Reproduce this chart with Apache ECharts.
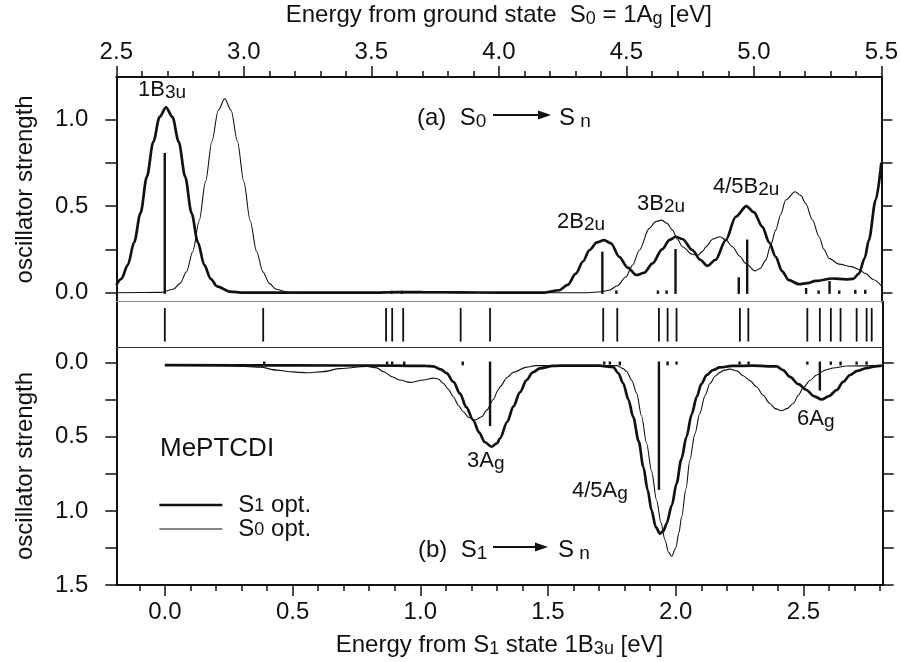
<!DOCTYPE html>
<html>
<head>
<meta charset="utf-8">
<script src="https://cdn.jsdelivr.net/npm/echarts@6/dist/echarts.min.js"></script>
<style>
  html, body { margin: 0; padding: 0; background: #fff; }
  #chart { width: 901px; height: 662px; }
</style>
</head>
<body>
<div id="chart"></div>
<script>
// ---- Panel (a): S0 -> Sn, energy from the ground state [eV] vs oscillator strength
const absA_S1opt = [
  [2.50,0.045],[2.52,0.08],[2.545,0.16],[2.57,0.29],[2.595,0.46],[2.62,0.67],[2.645,0.87],
  [2.67,1.015],[2.695,1.07],[2.72,1.015],[2.745,0.87],[2.77,0.67],[2.795,0.46],[2.82,0.29],
  [2.845,0.16],[2.87,0.08],[2.895,0.037],[2.945,0.006],[3.0,0.0],[3.5,0.0],[3.6,0.004],
  [3.7,0.003],[3.85,0.002],[4.0,0.0],[4.17,0.0],[4.237,0.014],[4.27,0.045],[4.302,0.11],
  [4.33,0.18],[4.355,0.245],[4.385,0.29],[4.413,0.303],[4.44,0.285],[4.472,0.207],[4.505,0.145],
  [4.54,0.102],[4.57,0.115],[4.603,0.169],[4.64,0.25],[4.67,0.305],[4.694,0.323],[4.72,0.31],
  [4.759,0.246],[4.79,0.19],[4.818,0.155],[4.85,0.19],[4.89,0.303],[4.929,0.438],[4.971,0.50],
  [5.0,0.465],[5.034,0.38],[5.06,0.29],[5.086,0.207],[5.11,0.125],[5.138,0.072],[5.177,0.049],
  [5.21,0.055],[5.243,0.068],[5.308,0.082],[5.36,0.077],[5.39,0.08],[5.412,0.11],[5.435,0.2],
  [5.451,0.303],[5.478,0.535],[5.5,0.75]
];
const absA_S0opt = [
  [2.5,0.0],[2.675,0.002],[2.725,0.021],[2.75,0.054],[2.775,0.12],[2.80,0.238],[2.825,0.415],
  [2.85,0.641],[2.875,0.874],[2.90,1.053],[2.925,1.12],[2.95,1.053],[2.975,0.874],[3.0,0.641],
  [3.025,0.415],[3.05,0.238],[3.075,0.12],[3.10,0.054],[3.125,0.021],[3.175,0.002],[3.25,0.0],
  [4.35,0.0],[4.40,0.005],[4.433,0.014],[4.465,0.04],[4.498,0.091],[4.525,0.16],[4.551,0.245],
  [4.59,0.371],[4.615,0.41],[4.639,0.419],[4.66,0.40],[4.681,0.361],[4.70,0.31],[4.72,0.265],
  [4.759,0.222],[4.779,0.215],[4.80,0.24],[4.812,0.265],[4.84,0.31],[4.867,0.323],[4.89,0.305],
  [4.916,0.265],[4.945,0.21],[4.968,0.169],[5.005,0.126],[5.025,0.14],[5.047,0.188],[5.065,0.27],
  [5.086,0.361],[5.105,0.45],[5.125,0.535],[5.162,0.583],[5.185,0.56],[5.203,0.516],[5.23,0.42],
  [5.256,0.323],[5.275,0.25],[5.295,0.198],[5.334,0.165],[5.386,0.149],[5.41,0.135],[5.438,0.111],
  [5.47,0.075],[5.5,0.04]
];
const sticksA = [
  [2.69,0.80],[3.58,0.004],[3.62,0.004],[4.406,0.23],[4.461,0.006],[4.624,0.006],[4.658,0.006],
  [4.693,0.245],[4.941,0.082],[4.974,0.30],[5.205,0.02],[5.254,0.006],[5.297,0.06],[5.335,0.006],
  [5.398,0.01],[5.437,0.01]
];

// ---- Excited-state positions (energy from the ground state) for the middle strip
const stateEnergies = [
  2.69, 3.075, 3.556, 3.58, 3.623, 3.848, 3.963, 4.406, 4.461, 4.624, 4.658, 4.693,
  4.941, 4.974, 5.205, 5.254, 5.297, 5.335, 5.398, 5.437, 5.457
];

// ---- Panel (b): S1 -> Sn, energy from the S1 state [eV] vs oscillator strength
const absB_S1opt = [
  [0.0,0.016],[0.5,0.018],[0.9,0.02],[1.02,0.022],[1.051,0.025],[1.08,0.045],[1.103,0.07],
  [1.13,0.13],[1.155,0.207],[1.18,0.3],[1.207,0.387],[1.23,0.47],[1.252,0.535],[1.279,0.567],
  [1.30,0.545],[1.312,0.511],[1.34,0.4],[1.364,0.297],[1.39,0.2],[1.416,0.117],[1.44,0.065],
  [1.468,0.038],[1.52,0.022],[1.547,0.02],[1.70,0.02],[1.755,0.03],[1.775,0.07],[1.794,0.139],
  [1.815,0.25],[1.833,0.365],[1.855,0.53],[1.873,0.703],[1.89,0.86],[1.905,0.995],[1.922,1.11],
  [1.938,1.153],[1.952,1.135],[1.964,1.085],[1.985,0.96],[2.003,0.815],[2.022,0.65],[2.042,0.5],
  [2.062,0.35],[2.082,0.23],[2.10,0.145],[2.121,0.083],[2.145,0.05],[2.173,0.032],[2.22,0.022],
  [2.30,0.02],[2.395,0.025],[2.42,0.05],[2.447,0.095],[2.48,0.145],[2.512,0.184],[2.54,0.225],
  [2.571,0.248],[2.60,0.225],[2.63,0.184],[2.655,0.13],[2.682,0.083],[2.71,0.055],[2.747,0.036],
  [2.78,0.025],[2.806,0.02]
];
const absB_S0opt = [
  [0.0,0.016],[0.25,0.02],[0.372,0.03],[0.438,0.05],[0.5,0.062],[0.555,0.068],[0.62,0.06],
  [0.686,0.04],[0.79,0.025],[0.83,0.035],[0.855,0.06],[0.89,0.095],[0.92,0.117],[0.96,0.133],
  [1.012,0.117],[1.051,0.104],[1.07,0.11],[1.09,0.139],[1.11,0.18],[1.129,0.23],[1.15,0.29],
  [1.168,0.331],[1.19,0.37],[1.214,0.387],[1.24,0.365],[1.26,0.32],[1.285,0.25],[1.305,0.184],
  [1.312,0.162],[1.34,0.1],[1.364,0.065],[1.416,0.03],[1.45,0.02],[1.77,0.02],[1.794,0.04],
  [1.808,0.06],[1.828,0.12],[1.847,0.207],[1.866,0.36],[1.886,0.545],[1.905,0.73],[1.925,0.928],
  [1.942,1.08],[1.958,1.198],[1.972,1.28],[1.984,1.306],[2.0,1.25],[2.012,1.15],[2.023,1.04],
  [2.04,0.85],[2.055,0.657],[2.075,0.48],[2.094,0.342],[2.115,0.22],[2.134,0.139],[2.155,0.09],
  [2.173,0.065],[2.19,0.05],[2.212,0.043],[2.24,0.055],[2.264,0.088],[2.29,0.12],[2.316,0.162],
  [2.342,0.22],[2.368,0.275],[2.39,0.31],[2.414,0.324],[2.435,0.31],[2.46,0.275],[2.48,0.22],
  [2.499,0.169],[2.525,0.12],[2.551,0.083],[2.585,0.05],[2.616,0.036],[2.67,0.022],[2.806,0.02]
];
const sticksB = [
  [0.389,0.006],[0.87,0.004],[0.89,0.004],[0.937,0.01],[1.166,0.01],[1.273,0.42],[1.72,0.004],
  [1.742,0.004],[1.781,0.01],[1.934,0.85],[1.968,0.01],[2.003,0.005],[2.25,0.004],[2.285,0.004],
  [2.515,0.005],[2.564,0.18],[2.607,0.006],[2.645,0.01],[2.708,0.005],[2.747,0.005]
];

// ---- Axis ticks and labels
const bottomMajorTicks = [0.0, 0.5, 1.0, 1.5, 2.0, 2.5];
const bottomMinorTicks = [-0.1, 0.1, 0.2, 0.3, 0.4, 0.6, 0.7, 0.8, 0.9, 1.1, 1.2, 1.3, 1.4,
  1.6, 1.7, 1.8, 1.9, 2.1, 2.2, 2.3, 2.4, 2.6, 2.7, 2.8];
const upperTicks = [0.0, 0.25, 0.5, 0.75, 1.0];
const upperLabels = [0.0, 0.5, 1.0];
const lowerTicks = [0.0, 0.25, 0.5, 0.75, 1.0, 1.25, 1.5];
const lowerLabels = [0.0, 0.5, 1.0, 1.5];

const INK = '#111';
const FONT = '"Liberation Sans", Arial, Helvetica, sans-serif';
const FS = 24;
const THICK = 2.7;
const THIN = 1.1;

const subStyle = (size, lh) => ({ fontFamily: FONT, fontSize: size, lineHeight: lh, verticalAlign: 'bottom', color: INK });
const textBase = { fontFamily: FONT, fontSize: FS, color: INK, lineHeight: 26, rich: { sub: subStyle(18, 19) } };

const chart = echarts.init(document.getElementById('chart'), null, { renderer: 'canvas' });

const frameLine = { show: true, onZero: false, lineStyle: { color: INK, width: 2 } };
const tickStyle = { color: INK, width: 1.5 };
const fmt1 = v => v.toFixed(1);

function stickRenderer(width) {
  return function (params, api) {
    const x = api.value(0), f = api.value(1);
    const p0 = api.coord([x, 0]);
    const p1 = api.coord([x, f]);
    return {
      type: 'line',
      shape: { x1: p0[0], y1: p0[1], x2: p1[0], y2: p1[1] },
      style: { stroke: INK, lineWidth: width, lineCap: 'square' }
    };
  };
}
function stripRenderer(params, api) {
  const x = api.value(0);
  const p0 = api.coord([x, 0.12]);
  const p1 = api.coord([x, 0.86]);
  return {
    type: 'line',
    shape: { x1: p0[0], y1: p0[1], x2: p1[0], y2: p1[1] },
    style: { stroke: INK, lineWidth: 1.8 }
  };
}

function yAxisPair(grid, min, max, inverse, ticks, labels, withName) {
  const left = {
    gridIndex: grid, type: 'value', position: 'left', min, max, inverse,
    axisLine: frameLine,
    axisTick: { show: !!ticks, inside: false, length: 11, lineStyle: tickStyle, customValues: ticks || undefined },
    axisLabel: labels ? { show: true, customValues: labels, margin: 28, fontSize: FS, fontFamily: FONT, color: INK, formatter: fmt1 } : { show: false },
    splitLine: { show: false }
  };
  if (withName) {
    left.name = 'oscillator strength';
    left.nameLocation = 'middle';
    left.nameGap = 79;
    left.nameTextStyle = { fontSize: FS, fontFamily: FONT, color: INK };
  }
  const right = {
    gridIndex: grid, type: 'value', position: 'right', min, max, inverse,
    axisLine: frameLine,
    axisTick: { show: !!ticks, inside: false, length: 11, lineStyle: tickStyle, customValues: ticks || undefined },
    axisLabel: { show: false },
    splitLine: { show: false }
  };
  return [left, right];
}

function richLabel(text, x, y, size, subSize) {
  const lh = size + 2;
  return {
    type: 'text', x, y, silent: true,
    style: {
      text, fill: INK, fontFamily: FONT, fontSize: size, lineHeight: lh,
      align: 'left', verticalAlign: 'middle',
      rich: { sub: subStyle(subSize, subSize - 1) }
    }
  };
}
function arrow(x1, x2, y) {
  return [
    { type: 'line', silent: true, shape: { x1, y1: y, x2: x2 - 10, y2: y }, style: { stroke: INK, lineWidth: 1.8 } },
    { type: 'polygon', silent: true, shape: { points: [[x2 - 13, y - 4.5], [x2, y], [x2 - 13, y + 4.5]] }, style: { fill: INK } }
  ];
}

const option = {
  animation: false,
  backgroundColor: '#fff',
  textStyle: { fontFamily: FONT },
  grid: [
    { left: 116.3, top: 77, width: 766.4, height: 224.7 },
    { left: 116.3, top: 301.7, width: 766.4, height: 45.3 },
    { left: 116.3, top: 347, width: 766.4, height: 238 }
  ],
  xAxis: [
    {
      gridIndex: 0, type: 'value', position: 'top', min: 2.5, max: 5.5, interval: 0.5,
      axisLine: frameLine,
      axisTick: { show: true, inside: false, length: 11, lineStyle: tickStyle },
      minorTick: { show: true, splitNumber: 5, length: 6, lineStyle: tickStyle },
      axisLabel: { margin: 13, fontSize: FS, fontFamily: FONT, color: INK, formatter: fmt1 },
      splitLine: { show: false }, minorSplitLine: { show: false },
      name: 'Energy from ground state  S{sub|0} = 1A{sub|g} [eV]',
      nameLocation: 'middle', nameGap: 49, nameTextStyle: textBase
    },
    {
      gridIndex: 1, type: 'value', position: 'top', min: 2.5, max: 5.5,
      axisLine: { show: true, onZero: false, lineStyle: { color: '#8c8c8c', width: 1.2 } },
      axisTick: { show: false }, axisLabel: { show: false }, splitLine: { show: false }
    },
    {
      gridIndex: 1, type: 'value', position: 'bottom', min: 2.5, max: 5.5,
      axisLine: { show: true, onZero: false, lineStyle: { color: '#333', width: 1.2 } },
      axisTick: { show: false }, axisLabel: { show: false }, splitLine: { show: false }
    },
    {
      gridIndex: 2, type: 'value', position: 'bottom', min: -0.19, max: 2.81,
      axisLine: frameLine,
      axisTick: { show: true, inside: false, length: 11, lineStyle: tickStyle, customValues: bottomMajorTicks },
      axisLabel: { customValues: bottomMajorTicks, margin: 15, fontSize: FS, fontFamily: FONT, color: INK, formatter: fmt1 },
      splitLine: { show: false },
      name: 'Energy from S{sub|1} state 1B{sub|3u} [eV]',
      nameLocation: 'middle', nameGap: 47, nameTextStyle: textBase
    },
    {
      gridIndex: 2, type: 'value', position: 'bottom', min: -0.19, max: 2.81,
      axisLine: { show: false, onZero: false },
      axisTick: { show: true, inside: false, length: 6, lineStyle: tickStyle, customValues: bottomMinorTicks },
      axisLabel: { show: false }, splitLine: { show: false }
    }
  ],
  yAxis: [
    ...yAxisPair(0, -0.052, 1.245, false, upperTicks, upperLabels, true),
    ...yAxisPair(1, 0, 1, false, null, null, false),
    ...yAxisPair(2, -0.106, 1.5, true, lowerTicks, lowerLabels, true)
  ],
  legend: {
    show: true, orient: 'vertical', left: 158, top: 493, padding: 0,
    itemWidth: 63, itemHeight: 12, itemGap: 0, selectedMode: false,
    data: [
      { name: 'S1 opt.', lineStyle: { width: THICK, color: INK } },
      { name: 'S0 opt.', lineStyle: { width: THIN, color: INK } }
    ],
    itemStyle: { opacity: 0 },
    formatter: name => '{p| }' + name.replace(/^S(\d)/, 'S{sub|$1}'),
    textStyle: {
      fontFamily: FONT, fontSize: FS, color: INK, lineHeight: 20,
      rich: { p: { width: 11, lineHeight: 20 }, sub: subStyle(18, 13) }
    }
  },
  series: [
    { name: 'S1 opt.', type: 'line', xAxisIndex: 0, yAxisIndex: 0, data: absA_S1opt, symbol: 'none',
      smooth: 0.3, smoothMonotone: 'x', lineStyle: { color: INK, width: THICK }, itemStyle: { color: INK } },
    { name: 'S0 opt.', type: 'line', xAxisIndex: 0, yAxisIndex: 0, data: absA_S0opt, symbol: 'none',
      smooth: 0.3, smoothMonotone: 'x', lineStyle: { color: INK, width: THIN }, itemStyle: { color: INK } },
    { name: 'sticks (a)', type: 'custom', xAxisIndex: 0, yAxisIndex: 0, data: sticksA,
      renderItem: stickRenderer(2.4), z: 5 },
    { name: 'states', type: 'custom', xAxisIndex: 1, yAxisIndex: 2, data: stateEnergies.map(e => [e]),
      renderItem: stripRenderer, encode: { x: 0 } },
    { name: 'S1 opt.', type: 'line', xAxisIndex: 3, yAxisIndex: 4, data: absB_S1opt, symbol: 'none',
      smooth: 0.3, smoothMonotone: 'x', lineStyle: { color: INK, width: THICK }, itemStyle: { color: INK } },
    { name: 'S0 opt.', type: 'line', xAxisIndex: 3, yAxisIndex: 4, data: absB_S0opt, symbol: 'none',
      smooth: 0.3, smoothMonotone: 'x', lineStyle: { color: INK, width: THIN }, itemStyle: { color: INK } },
    { name: 'sticks (b)', type: 'custom', xAxisIndex: 3, yAxisIndex: 4, data: sticksB,
      renderItem: stickRenderer(2.4), z: 5 }
  ],
  graphic: [
    richLabel('1B{sub|3u}', 138, 90, 22, 19),
    richLabel('2B{sub|2u}', 557, 222, 22, 19),
    richLabel('3B{sub|2u}', 637, 204, 22, 19),
    richLabel('4/5B{sub|2u}', 713, 187, 22, 19),
    richLabel('3A{sub|g}', 467, 461, 22, 19),
    richLabel('4/5A{sub|g}', 572, 491, 22, 19),
    richLabel('6A{sub|g}', 797, 419, 22, 19),
    richLabel('(a)  S{sub|0}', 417, 118, FS, 19),
    ...arrow(493, 551, 115),
    richLabel('S{sub| n}', 559, 118, FS, 19),
    richLabel('(b)  S{sub|1}', 418, 550, FS, 19),
    ...arrow(493, 548, 547),
    richLabel('S{sub| n}', 558, 550, FS, 19),
    { type: 'text', x: 160, y: 449, silent: true,
      style: { text: 'MePTCDI', fill: INK, fontFamily: FONT, fontSize: 26, align: 'left', verticalAlign: 'middle' } }
  ]
};

chart.setOption(option);
</script>
</body>
</html>
